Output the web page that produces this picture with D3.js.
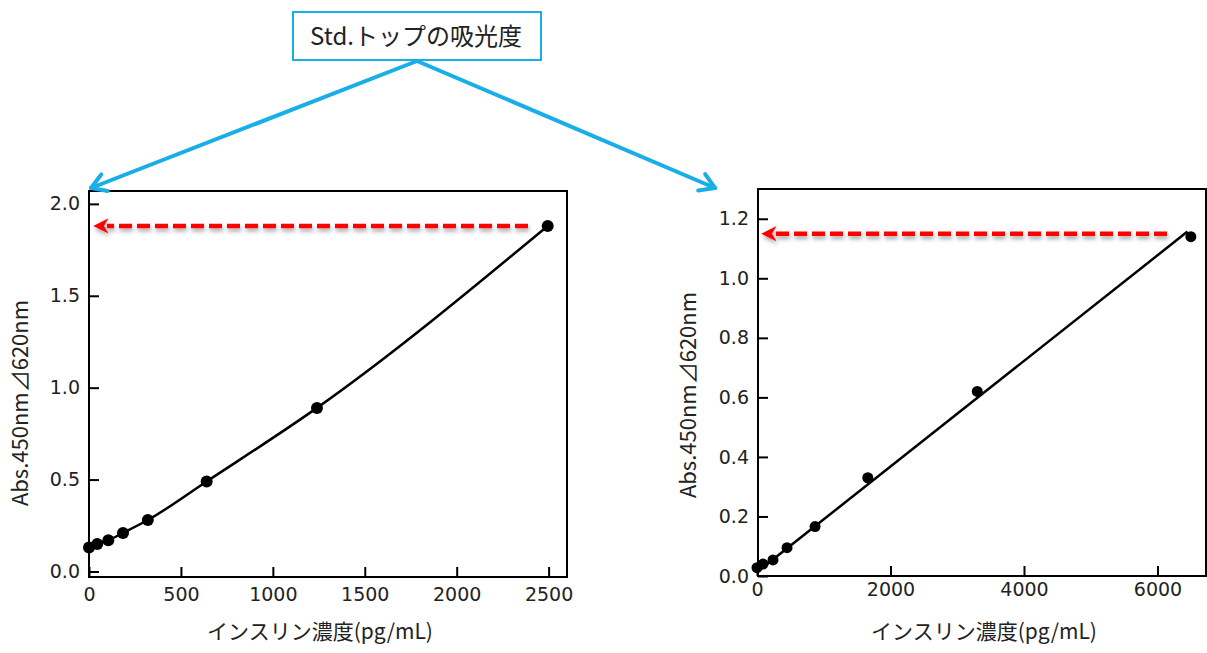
<!DOCTYPE html>
<html>
<head>
<meta charset="utf-8">
<script src="https://cdn.jsdelivr.net/npm/d3@7"></script>
<style>
  body { margin: 0; background: #fff; }
  svg text { font-family: "Noto Sans CJK JP", "DejaVu Sans", sans-serif; fill: #222; }
</style>
</head>
<body>
<svg id="chart" width="1207" height="653"></svg>
<script>
// left: 0-2500 pg/mL standard curve
const leftConc = [0, 45, 105, 185, 320, 640, 1240, 2495];
const leftAbs = [0.13, 0.15, 0.17, 0.21, 0.28, 0.49, 0.89, 1.88];
const leftXTicks = [0, 500, 1000, 1500, 2000, 2500];
const leftYTicks = [0.0, 0.5, 1.0, 1.5, 2.0];
const leftTop = 1.88; // red arrow level

// right: 0-6500 pg/mL standard curve
const rightConc = [0, 90, 240, 450, 870, 1660, 3300, 6500];
const rightAbs = [0.028, 0.04, 0.054, 0.095, 0.166, 0.33, 0.62, 1.14];
const rightFitX = [0, 6450];
const rightFitY = [0.013, 1.157];
const rightXTicks = [0, 2000, 4000, 6000];
const rightYTicks = [0.0, 0.2, 0.4, 0.6, 0.8, 1.0, 1.2];
const rightTop = 1.15;

const title = "Std.トップの吸光度";
const yTitle = "Abs.450nm⊿620nm";
const xTitle = "インスリン濃度(pg/mL)";

const svg = d3.select("#chart");
const blue = "#1aaee8";
const tickFont = "'DejaVu Sans', Verdana, sans-serif";

const defs = svg.append("defs");
// userSpaceOnUse so a flat horizontal line still gets a filter region
defs.append("filter").attr("id", "shadow")
  .attr("filterUnits", "userSpaceOnUse")
  .attr("x", 0).attr("y", 0).attr("width", 1207).attr("height", 653)
  .append("feDropShadow")
  .attr("dx", 1).attr("dy", 3).attr("stdDeviation", 2)
  .attr("flood-color", "#000").attr("flood-opacity", 0.35);
defs.append("marker").attr("id", "redhead")
  .attr("viewBox", "0 0 10 10").attr("refX", 1).attr("refY", 5)
  .attr("markerWidth", 3.4).attr("markerHeight", 3.4).attr("orient", "auto")
  .append("path").attr("d", "M0,5L10,0L7,5L10,10Z").attr("fill", "#ff0000")
  .attr("transform", "rotate(180,5,5)");

function drawPanel(opt) {
  const x = d3.scaleLinear().domain(opt.xDomain).range([opt.left, opt.right]);
  const y = d3.scaleLinear().domain(opt.yDomain).range([opt.bottom, opt.top]);
  const g = svg.append("g");

  // frame
  g.append("rect")
    .attr("x", opt.frameLeft).attr("y", opt.top)
    .attr("width", opt.frameRight - opt.frameLeft).attr("height", opt.bottom - opt.top)
    .attr("fill", "none").attr("stroke", "#000").attr("stroke-width", 2);

  const xAxis = d3.axisBottom(x).tickValues(opt.xTicks).tickSizeInner(-10).tickSizeOuter(0)
    .tickPadding(opt.xPad).tickFormat(d3.format("d"));
  g.append("g").attr("transform", "translate(0," + opt.bottom + ")").call(xAxis)
    .call(a => a.select(".domain").remove())
    .call(a => a.selectAll("line").attr("stroke", "#000").attr("stroke-width", 2))
    .call(a => a.selectAll("text").style("font-family", tickFont)
      .style("font-size", "19px").attr("fill", "#222"));

  const yAxis = d3.axisLeft(y).tickValues(opt.yTicks).tickSizeInner(-10).tickSizeOuter(0)
    .tickPadding(9).tickFormat(d3.format(".1f"));
  g.append("g").attr("transform", "translate(" + opt.frameLeft + ",0)").call(yAxis)
    .call(a => a.select(".domain").remove())
    .call(a => a.selectAll("line").attr("stroke", "#000").attr("stroke-width", 2))
    .call(a => a.selectAll("text").style("font-family", tickFont)
      .style("font-size", "19px").attr("fill", "#222"));

  // red dashed arrow
  g.append("line")
    .attr("x1", opt.arrowRight).attr("x2", opt.arrowLeft + 10)
    .attr("y1", y(opt.arrowLevel)).attr("y2", y(opt.arrowLevel))
    .attr("stroke", "#ff0000").attr("stroke-width", 4.5)
    .attr("stroke-dasharray", "13,5")
    .attr("marker-end", "url(#redhead)")
    .attr("filter", "url(#shadow)");

  // fitted curve
  g.append("path")
    .datum(opt.fitX.map((d, i) => [d, opt.fitY[i]]))
    .attr("fill", "none").attr("stroke", "#000").attr("stroke-width", 2.5)
    .attr("d", d3.line().x(d => x(d[0])).y(d => y(d[1])).curve(opt.curve));

  g.selectAll("circle.pt")
    .data(opt.conc.map((d, i) => [d, opt.abs[i]]))
    .join("circle").attr("class", "pt")
    .attr("cx", d => x(d[0])).attr("cy", d => y(d[1]))
    .attr("r", opt.r).attr("fill", "#000");

  g.append("text")
    .attr("transform", "translate(" + opt.yTitleX + "," + opt.yTitleY + ") rotate(-90)")
    .attr("text-anchor", "middle").attr("dy", "0.35em")
    .style("font-size", "22px").text(yTitle);

  g.append("text")
    .attr("x", opt.xTitleX).attr("y", 632)
    .attr("text-anchor", "middle").attr("dy", "0.35em")
    .style("font-size", "21px").text(xTitle);
}

drawPanel({
  xDomain: [0, 2600], yDomain: [-0.03, 2.07],
  left: 89, right: 567, top: 191, bottom: 577,
  frameLeft: 89, frameRight: 567,
  xTicks: leftXTicks, yTicks: leftYTicks, xPad: 11,
  conc: leftConc, abs: leftAbs, fitX: leftConc, fitY: leftAbs,
  curve: d3.curveMonotoneX, r: 6,
  arrowLevel: leftTop, arrowLeft: 97, arrowRight: 528,
  yTitleX: 20, yTitleY: 403, xTitleX: 320
});

drawPanel({
  xDomain: [0, 6727], yDomain: [0, 1.3],
  left: 757, right: 1206, top: 189, bottom: 576,
  frameLeft: 758, frameRight: 1206,
  xTicks: rightXTicks, yTicks: rightYTicks, xPad: 7,
  conc: rightConc, abs: rightAbs, fitX: rightFitX, fitY: rightFitY,
  curve: d3.curveLinear, r: 5.5,
  arrowLevel: rightTop, arrowLeft: 765, arrowRight: 1167,
  yTitleX: 688, yTitleY: 395, xTitleX: 984
});

// title box with blue arrows
const tb = svg.append("g");
tb.append("rect").attr("x", 293).attr("y", 12).attr("width", 248).attr("height", 48)
  .attr("fill", "#fff").attr("stroke", blue).attr("stroke-width", 2);
tb.append("text").attr("x", 416).attr("y", 37).attr("text-anchor", "middle").attr("dy", "0.35em")
  .style("font-size", "24px").text(title);

const arrowStart = [417, 61];
const arrowEnds = [[91, 188], [715, 188]];
arrowEnds.forEach(end => {
  tb.append("line")
    .attr("x1", arrowStart[0]).attr("y1", arrowStart[1])
    .attr("x2", end[0]).attr("y2", end[1])
    .attr("stroke", blue).attr("stroke-width", 4).attr("stroke-linecap", "round");
  const ang = Math.atan2(arrowStart[1] - end[1], arrowStart[0] - end[0]);
  [0.55, -0.55].forEach(off => {
    tb.append("line")
      .attr("x1", end[0]).attr("y1", end[1])
      .attr("x2", end[0] + 17 * Math.cos(ang + off)).attr("y2", end[1] + 17 * Math.sin(ang + off))
      .attr("stroke", blue).attr("stroke-width", 4).attr("stroke-linecap", "round");
  });
});
</script>
</body>
</html>
